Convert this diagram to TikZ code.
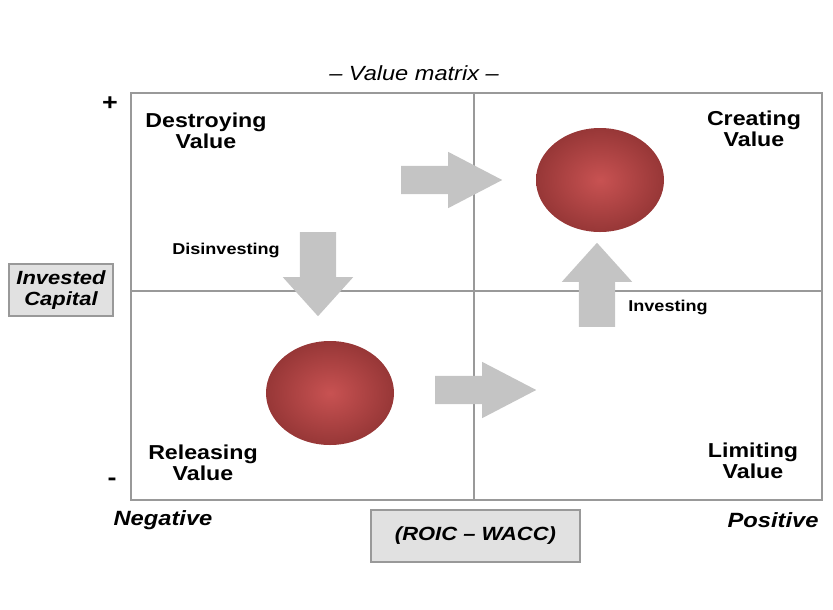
\documentclass[tikz,border=0pt]{standalone}
\usepackage{fontspec}
\setmainfont{Liberation Sans}[FakeStretch=1.15]
\usetikzlibrary{shapes.geometric,shapes.arrows,positioning}

\definecolor{gridgray}{HTML}{999999}
\definecolor{arrowgray}{HTML}{C4C4C4}
\definecolor{boxfill}{HTML}{E1E1E1}
\definecolor{blobin}{HTML}{C85252}
\definecolor{blobout}{HTML}{973737}

\tikzset{
  quadrant/.style={font=\fontsize{17.2}{18.2}\selectfont\bfseries, align=center},
  hint/.style={font=\fontsize{13.4}{14}\selectfont\bfseries},
  axislabel/.style={font=\fontsize{17.6}{18}\selectfont\bfseries\itshape},
  labelbox/.style={draw=gridgray, fill=boxfill, line width=1pt, inner sep=0pt,
    align=center, font=\fontsize{16.3}{17.5}\selectfont\bfseries\itshape},
  blob/.style={ellipse, minimum width=3.84cm, minimum height=3.12cm,
    inner color=blobin, outer color=blobout},
  sideways/.style={single arrow, fill=arrowgray, inner sep=0.42cm, anchor=tail,
    minimum height=3.03cm,
    single arrow head extend=0.42cm, single arrow tip angle=55},
  upright/.style={single arrow, fill=arrowgray, inner sep=0.54cm, anchor=tail,
    minimum height=2.52cm,
    single arrow head extend=0.51cm, single arrow tip angle=84}
}

\begin{document}
\begin{tikzpicture}[x=0.03cm, y=-0.03cm]
\useasboundingbox (0,0) rectangle (833,609);

% the matrix
\coordinate (nw) at (131,93);
\coordinate (se) at (822,500);
\coordinate (top) at (474,93);
\coordinate (bottom) at (474,500);
\coordinate (left) at (131,291);
\coordinate (right) at (822,291);
\draw [gridgray, line width=1pt] (nw) rectangle (se);
\draw [gridgray, line width=1.6pt] (top) -- (bottom);
\draw [gridgray, line width=1.6pt] (left) -- (right);

% moves
\node [sideways] (toCreate) at (401,180) {};
\node [sideways] (toLimit) at (435,390) {};
\node [upright, shape border rotate=270] (disinvest) at (318,232) {};
\node [upright, shape border rotate=90] (invest) at (597,327) {};

% positions
\node [blob] (creating) at (600,180) {};
\node [blob] (releasing) at (330,393) {};

% quadrant names
\node [quadrant] (qDestroy) at (206,131) {Destroying\\Value};
\node [quadrant] (qCreate) at (754,129) {Creating\\Value};
\node [quadrant] (qRelease) at (203,463) {Releasing\\Value};
\node [quadrant] (qLimit) at (753,461) {Limiting\\Value};
\node [hint] (lDisinvest) at (226,250) {Disinvesting};
\node [hint] (lInvest) at (668,307) {Investing};

% axes
\node [font=\fontsize{17.5}{18}\selectfont\itshape] (title) at (414,73) {-- Value matrix --};
\node [font=\fontsize{20}{20}\selectfont\bfseries] (plus) at (110,104) {+};
\node [font=\fontsize{20}{20}\selectfont\bfseries] (minus) at (112,482) {-};
\node [labelbox, minimum width=3.12cm, minimum height=1.56cm] (capital) at (61,290) {Invested\\Capital};
\node [labelbox, minimum width=6.27cm, minimum height=1.56cm] (spread) at (475.5,536) {(ROIC -- WACC)};
\node [axislabel] (negative) at (163,520) {Negative};
\node [axislabel] (positive) at (773,520) {Positive};
\end{tikzpicture}
\end{document}
